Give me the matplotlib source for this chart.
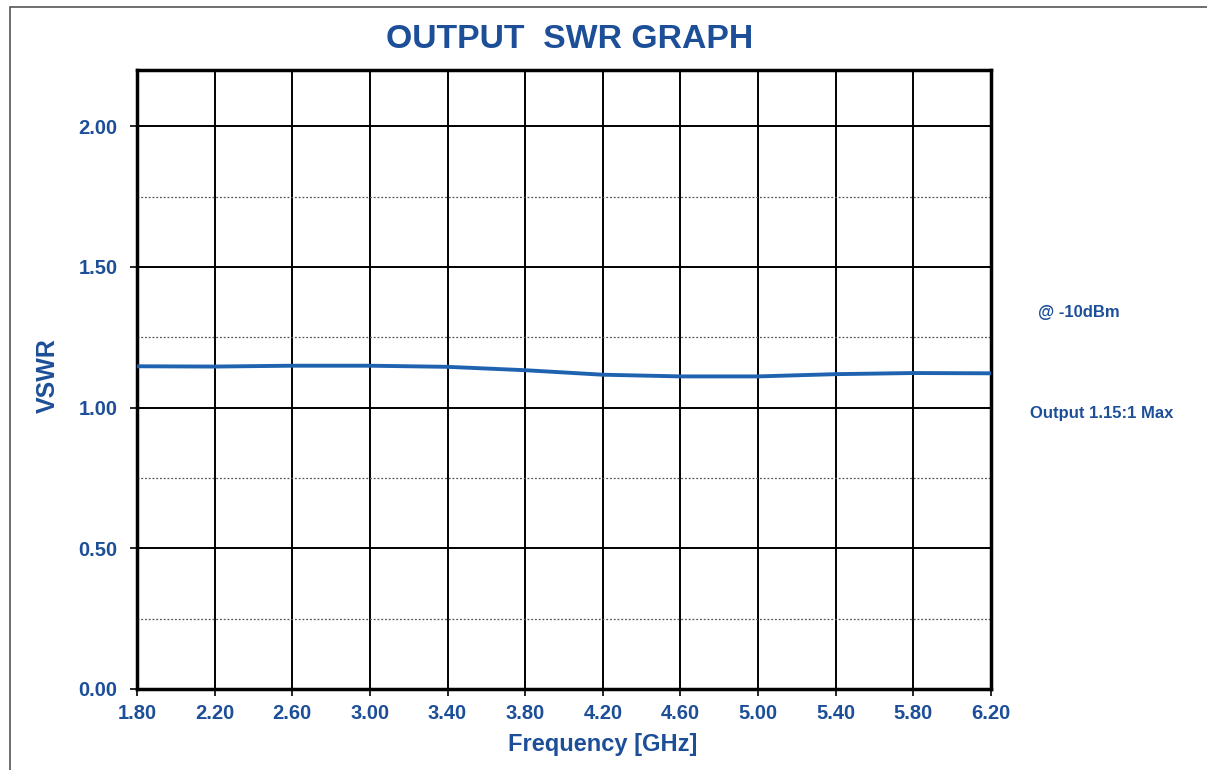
import matplotlib
matplotlib.use("Agg")
import matplotlib.pyplot as plt
from matplotlib.patches import Rectangle

plt.rcParams['font.family'] = ['Liberation Sans', 'DejaVu Sans']

# 数据 (读自参考图)
freq = [1.80, 2.20, 2.60, 3.00, 3.40, 3.80, 4.20, 4.60, 5.00, 5.40, 5.80, 6.20]
vswr = [1.147, 1.146, 1.149, 1.149, 1.145, 1.133, 1.117, 1.111, 1.111, 1.119, 1.123, 1.122]
x_ticks = [1.80, 2.20, 2.60, 3.00, 3.40, 3.80, 4.20, 4.60, 5.00, 5.40, 5.80, 6.20]
y_ticks = [0.00, 0.50, 1.00, 1.50, 2.00]
y_minor = [0.25, 0.75, 1.25, 1.75]

blue_text = '#1d4f98'
blue_line = '#1f63b0'

fig = plt.figure(figsize=(12.07, 7.70), dpi=100)
ax = fig.add_axes([137 / 1207, 1 - 689 / 770, (991 - 137) / 1207, (689 - 70) / 770])

# 外框
fig.patches.append(Rectangle((10 / 1207, -0.05), 1.1, 1 - 7 / 770 + 0.05,
                             transform=fig.transFigure, fill=False,
                             edgecolor='#555555', linewidth=1.2))

# 网格
for x in x_ticks[1:-1]:
    ax.axvline(x, color='black', linewidth=1.4, zorder=1)
for y in y_ticks[1:]:
    ax.axhline(y, color='black', linewidth=1.4, zorder=1)
for y in y_minor:
    ax.axhline(y, color='#555555', linewidth=0.9, linestyle=(0, (1.5, 1.5)), zorder=1)

ax.plot(freq, vswr, color=blue_line, linewidth=2.8, zorder=3)

ax.set_xlim(1.8, 6.2)
ax.set_ylim(0, 2.2)
ax.set_xticks(x_ticks)
ax.set_xticklabels([f'{v:.2f}' for v in x_ticks])
ax.set_yticks(y_ticks)
ax.set_yticklabels([f'{v:.2f}' for v in y_ticks])
ax.tick_params(axis='both', direction='out', length=5, width=1.2, color='black',
               labelsize=14.5, labelcolor=blue_text)
for lbl in ax.get_xticklabels() + ax.get_yticklabels():
    lbl.set_fontweight('bold')
ax.tick_params(axis='x', pad=6)
ax.tick_params(axis='y', pad=9)

for s in ax.spines.values():
    s.set_linewidth(2.5)
    s.set_color('black')

fig.text(603 / 1207, 1 - 745 / 770, 'Frequency [GHz]', ha='center', va='center',
         fontsize=17, fontweight='bold', color=blue_text)
fig.text(48 / 1207, 1 - 376 / 770, 'VSWR', ha='center', va='center', rotation=90,
         fontsize=18, fontweight='bold', color=blue_text)

fig.text(570 / 1207, 1 - 40 / 770, 'OUTPUT  SWR GRAPH', ha='center', va='center',
         fontsize=24.3, fontweight='bold', color=blue_text)
fig.text(1079 / 1207, 1 - 312 / 770, '@ -10dBm', ha='center', va='center',
         fontsize=12, fontweight='bold', color=blue_text)
fig.text(1102 / 1207, 1 - 414 / 770, 'Output 1.15:1 Max', ha='center', va='center',
         fontsize=12, fontweight='bold', color=blue_text)

plt.savefig('out.png', dpi=100)
plt.close()
